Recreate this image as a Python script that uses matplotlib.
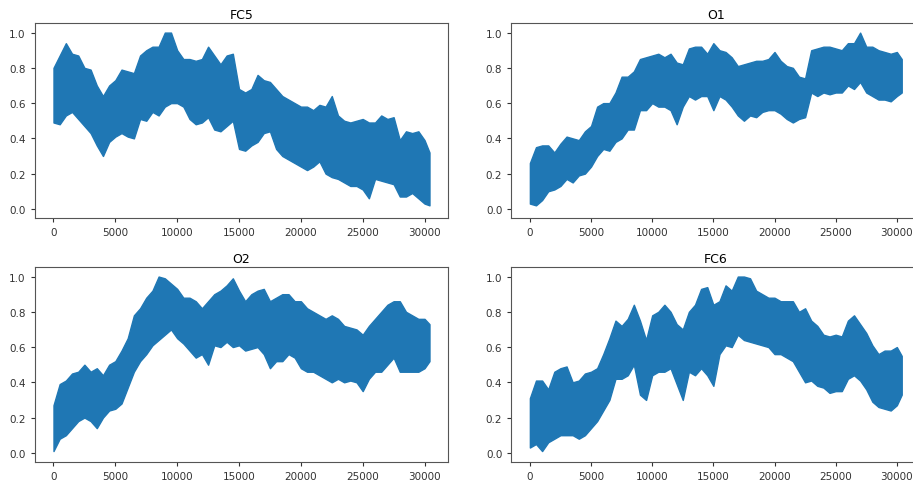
import matplotlib
matplotlib.use("Agg")
import matplotlib.pyplot as plt

sample_x = list(range(0, 30001, 500)) + [30400]

channels = ["FC5", "O1", "O2", "FC6"]

# upper / lower envelope of each normalised channel (one value per sample_x)
fc5_hi = [0.80, 0.87, 0.94, 0.88, 0.87, 0.80, 0.79, 0.70, 0.64, 0.70, 0.73, 0.79, 0.78, 0.77,
          0.87, 0.90, 0.92, 0.92, 1.00, 1.00, 0.90, 0.85, 0.85, 0.84, 0.85, 0.92, 0.87, 0.82,
          0.87, 0.88, 0.68, 0.66, 0.68, 0.76, 0.73, 0.72, 0.68, 0.64, 0.62, 0.60, 0.58, 0.58,
          0.56, 0.59, 0.58, 0.64, 0.53, 0.50, 0.49, 0.50, 0.51, 0.49, 0.49, 0.53, 0.51, 0.52,
          0.39, 0.44, 0.43, 0.44, 0.39, 0.32]
fc5_lo = [0.49, 0.48, 0.53, 0.55, 0.51, 0.47, 0.43, 0.36, 0.30, 0.38, 0.41, 0.43, 0.41, 0.40,
          0.51, 0.50, 0.55, 0.53, 0.58, 0.60, 0.60, 0.58, 0.51, 0.48, 0.49, 0.52, 0.45, 0.44,
          0.47, 0.50, 0.34, 0.33, 0.36, 0.38, 0.43, 0.44, 0.34, 0.30, 0.28, 0.26, 0.24, 0.22,
          0.24, 0.27, 0.20, 0.18, 0.17, 0.15, 0.13, 0.13, 0.11, 0.06, 0.17, 0.16, 0.15, 0.14,
          0.07, 0.07, 0.09, 0.06, 0.03, 0.02]

o1_hi = [0.26, 0.35, 0.36, 0.36, 0.32, 0.37, 0.41, 0.40, 0.39, 0.44, 0.47, 0.58, 0.60, 0.60,
         0.66, 0.75, 0.75, 0.78, 0.85, 0.86, 0.87, 0.88, 0.86, 0.88, 0.83, 0.82, 0.91, 0.92,
         0.92, 0.88, 0.94, 0.90, 0.89, 0.86, 0.81, 0.82, 0.83, 0.84, 0.84, 0.85, 0.89, 0.84,
         0.81, 0.80, 0.75, 0.74, 0.90, 0.91, 0.92, 0.92, 0.91, 0.90, 0.94, 0.94, 1.00, 0.92,
         0.92, 0.90, 0.89, 0.88, 0.89, 0.85]
o1_lo = [0.03, 0.02, 0.05, 0.10, 0.11, 0.13, 0.17, 0.15, 0.19, 0.20, 0.24, 0.30, 0.34, 0.33,
         0.38, 0.40, 0.45, 0.45, 0.56, 0.56, 0.60, 0.58, 0.58, 0.56, 0.48, 0.58, 0.64, 0.62,
         0.64, 0.64, 0.56, 0.64, 0.62, 0.58, 0.53, 0.50, 0.53, 0.52, 0.55, 0.56, 0.56, 0.54,
         0.51, 0.49, 0.51, 0.52, 0.66, 0.64, 0.66, 0.65, 0.66, 0.66, 0.70, 0.68, 0.72, 0.66,
         0.64, 0.62, 0.62, 0.61, 0.64, 0.66]

o2_hi = [0.27, 0.39, 0.41, 0.45, 0.46, 0.50, 0.46, 0.48, 0.44, 0.50, 0.52, 0.58, 0.65, 0.78,
         0.82, 0.88, 0.92, 1.00, 0.99, 0.96, 0.93, 0.88, 0.88, 0.86, 0.82, 0.86, 0.90, 0.92,
         0.95, 0.99, 0.92, 0.86, 0.90, 0.92, 0.93, 0.86, 0.88, 0.90, 0.90, 0.86, 0.86, 0.82,
         0.80, 0.78, 0.76, 0.78, 0.76, 0.72, 0.71, 0.70, 0.67, 0.72, 0.76, 0.80, 0.84, 0.86,
         0.86, 0.80, 0.78, 0.76, 0.76, 0.73]
o2_lo = [0.01, 0.08, 0.10, 0.14, 0.18, 0.20, 0.18, 0.14, 0.20, 0.24, 0.25, 0.28, 0.37, 0.46,
         0.52, 0.56, 0.61, 0.64, 0.67, 0.70, 0.65, 0.62, 0.58, 0.54, 0.56, 0.50, 0.61, 0.60,
         0.63, 0.60, 0.61, 0.58, 0.59, 0.60, 0.56, 0.48, 0.52, 0.52, 0.56, 0.54, 0.48, 0.46,
         0.46, 0.44, 0.42, 0.40, 0.42, 0.40, 0.41, 0.40, 0.35, 0.42, 0.46, 0.46, 0.50, 0.54,
         0.46, 0.46, 0.46, 0.46, 0.48, 0.52]

fc6_hi = [0.31, 0.41, 0.41, 0.36, 0.46, 0.48, 0.49, 0.40, 0.41, 0.45, 0.46, 0.48, 0.56, 0.65,
          0.75, 0.72, 0.76, 0.84, 0.75, 0.64, 0.78, 0.80, 0.84, 0.80, 0.73, 0.70, 0.80, 0.84,
          0.93, 0.94, 0.84, 0.86, 0.95, 0.92, 1.00, 1.00, 0.99, 0.92, 0.90, 0.88, 0.88, 0.86,
          0.86, 0.86, 0.80, 0.82, 0.75, 0.72, 0.67, 0.66, 0.67, 0.66, 0.75, 0.78, 0.73, 0.68,
          0.61, 0.56, 0.58, 0.58, 0.60, 0.55]
fc6_lo = [0.03, 0.05, 0.01, 0.06, 0.08, 0.10, 0.10, 0.10, 0.08, 0.10, 0.14, 0.18, 0.24, 0.30,
          0.42, 0.42, 0.44, 0.50, 0.33, 0.30, 0.44, 0.46, 0.46, 0.48, 0.39, 0.30, 0.46, 0.44,
          0.48, 0.44, 0.38, 0.56, 0.61, 0.60, 0.67, 0.64, 0.63, 0.62, 0.61, 0.60, 0.56, 0.56,
          0.54, 0.52, 0.46, 0.40, 0.41, 0.38, 0.37, 0.34, 0.35, 0.35, 0.42, 0.44, 0.41, 0.36,
          0.29, 0.26, 0.25, 0.24, 0.27, 0.33]

upper = [fc5_hi, o1_hi, o2_hi, fc6_hi]
lower = [fc5_lo, o1_lo, o2_lo, fc6_lo]

fig = plt.figure(figsize=(9.13, 4.85), dpi=100)
# right-hand panels run past the edge of the (cropped) screenshot
boxes = [
    [0.038, 0.548, 0.453, 0.402],
    [0.560, 0.548, 0.448, 0.402],
    [0.038, 0.045, 0.453, 0.402],
    [0.560, 0.045, 0.448, 0.402],
]

for box, name, hi, lo in zip(boxes, channels, upper, lower):
    ax = fig.add_axes(box)
    ax.fill_between(sample_x, lo, hi, color="#1f77b4", lw=1.0, edgecolor="#1f77b4")
    ax.set_xlim(-1520, 30400 + 1520)
    ax.set_ylim(-0.053, 1.053)
    ax.set_xticks([0, 5000, 10000, 15000, 20000, 25000, 30000])
    ax.set_yticks([0.0, 0.2, 0.4, 0.6, 0.8, 1.0])
    ax.tick_params(labelsize=7.5, colors="#333333", length=3)
    for s in ax.spines.values():
        s.set_color("#555555")
    ax.set_title(name, fontsize=9, pad=4)

fig.savefig("out.png", dpi=100)
